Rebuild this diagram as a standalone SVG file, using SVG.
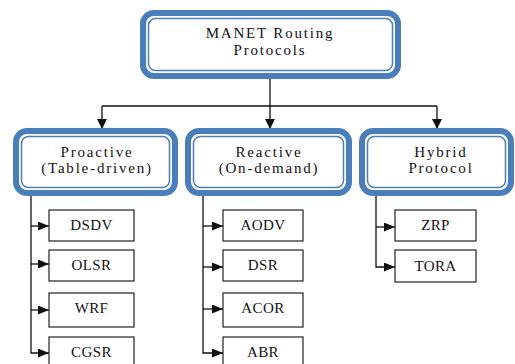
<svg xmlns="http://www.w3.org/2000/svg" width="515" height="364" viewBox="0 0 515 364">
<style>
.outer{fill:#ffffff;stroke:#4a7ebb;stroke-width:6}
.inner{fill:none;stroke:#4a7ebb;stroke-width:1.5}
.gap{fill:none;stroke:#dbe6f3;stroke-width:1.5}
.t{font-family:"Liberation Serif","Times New Roman",serif;font-size:15px;fill:#111;text-anchor:middle;letter-spacing:1.8px}
.c{font-family:"Liberation Serif","Times New Roman",serif;font-size:15px;fill:#111;text-anchor:middle;letter-spacing:0.4px}
.box{fill:#ffffff;stroke:#222;stroke-width:1.2}
.ln{fill:none;stroke:#111;stroke-width:1.3}
</style>
<defs>
<marker id="ah" markerUnits="userSpaceOnUse" markerWidth="10" markerHeight="10" refX="10" refY="5" orient="auto">
<path d="M0,0 L10,5 L0,10 z" fill="#111"/>
</marker>
<marker id="ah2" markerUnits="userSpaceOnUse" markerWidth="11" markerHeight="9" refX="11" refY="4.5" orient="auto">
<path d="M0,0 L11,4.5 L0,9 z" fill="#111"/>
</marker>
</defs>
<rect width="515" height="364" fill="#ffffff"/>

<g id="connectors">
<path class="ln" d="M270,79 V129" marker-end="url(#ah)"/>
<path class="ln" d="M102,106 H437"/>
<path class="ln" d="M102,106 V129" marker-end="url(#ah)"/>
<path class="ln" d="M437,106 V129" marker-end="url(#ah)"/>
<path class="ln" d="M31,196 V353 H49" marker-end="url(#ah2)"/>
<path class="ln" d="M31,226 H49" marker-end="url(#ah2)"/>
<path class="ln" d="M31,264 H49" marker-end="url(#ah2)"/>
<path class="ln" d="M31,310 H49" marker-end="url(#ah2)"/>
<path class="ln" d="M203,196 V353 H223" marker-end="url(#ah2)"/>
<path class="ln" d="M203,226 H223" marker-end="url(#ah2)"/>
<path class="ln" d="M203,267 H223" marker-end="url(#ah2)"/>
<path class="ln" d="M203,309 H223" marker-end="url(#ah2)"/>
<path class="ln" d="M376,196 V267 H395" marker-end="url(#ah2)"/>
<path class="ln" d="M376,227 H395" marker-end="url(#ah2)"/>
</g>

<g id="manet">
<rect class="outer" x="143" y="13" width="255" height="63" rx="11"/>
<rect class="inner" x="148.5" y="18.5" width="244" height="52" rx="7"/>
<text class="t" x="270" y="38">MANET Routing</text>
<text class="t" x="270" y="55">Protocols</text>
</g>

<g id="proactive">
<rect class="outer" x="16" y="131" width="159" height="62" rx="11"/>
<rect class="inner" x="21.5" y="136.5" width="148" height="51" rx="7"/>
<text class="t" x="97" y="157">Proactive</text>
<text class="t" x="97" y="173">(Table-driven)</text>
</g>

<g id="reactive">
<rect class="outer" x="188" y="131" width="161" height="62" rx="11"/>
<rect class="inner" x="193.5" y="136.5" width="150" height="51" rx="7"/>
<text class="t" x="269" y="157">Reactive</text>
<text class="t" x="269" y="173">(On-demand)</text>
</g>

<g id="hybrid">
<rect class="outer" x="362" y="131" width="149" height="62" rx="11"/>
<rect class="inner" x="367.5" y="136.5" width="138" height="51" rx="7"/>
<text class="t" x="441" y="157">Hybrid</text>
<text class="t" x="441" y="173">Protocol</text>
</g>

<g id="dsdv"><rect class="box" x="49" y="210" width="85" height="31"/><text class="c" x="91.5" y="230">DSDV</text></g>
<g id="olsr"><rect class="box" x="49" y="250" width="85" height="31"/><text class="c" x="91.5" y="270">OLSR</text></g>
<g id="wrf"><rect class="box" x="49" y="293" width="85" height="34"/><text class="c" x="91.5" y="313">WRF</text></g>
<g id="cgsr"><rect class="box" x="49" y="337" width="85" height="34"/><text class="c" x="91.5" y="357">CGSR</text></g>

<g id="aodv"><rect class="box" x="223" y="210" width="80" height="31"/><text class="c" x="263" y="230">AODV</text></g>
<g id="dsr"><rect class="box" x="223" y="250" width="80" height="31"/><text class="c" x="263" y="270">DSR</text></g>
<g id="acor"><rect class="box" x="223" y="293" width="80" height="34"/><text class="c" x="263" y="313">ACOR</text></g>
<g id="abr"><rect class="box" x="223" y="337" width="80" height="34"/><text class="c" x="263" y="357">ABR</text></g>

<g id="zrp"><rect class="box" x="395" y="210" width="81" height="31"/><text class="c" x="435.5" y="230">ZRP</text></g>
<g id="tora"><rect class="box" x="395" y="250" width="81" height="32"/><text class="c" x="435.5" y="271">TORA</text></g>
</svg>
